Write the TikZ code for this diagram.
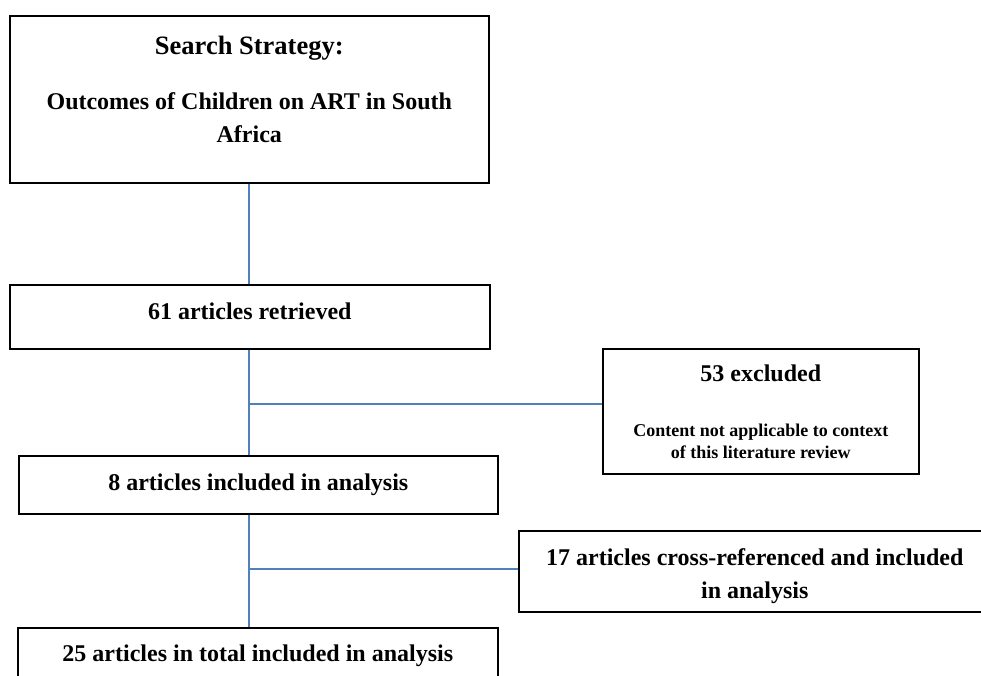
\documentclass[tikz,border=0pt]{standalone}
\usepackage{fontspec}
\setmainfont{Liberation Serif}
\usetikzlibrary{positioning}
\definecolor{linkblue}{RGB}{79,129,189}
\newcommand\boxfont{\fontsize{24}{33}\selectfont}
\newcommand\headfont{\fontsize{26.5}{33}\selectfont}
\newcommand\notefont{\fontsize{18}{22}\selectfont}
\tikzset{
	stagebox/.style={draw=black, line width=1.6pt, fill=white, align=center, inner sep=0pt, anchor=north west, font=\bfseries\boxfont},
	link/.style={draw=linkblue, line width=1.6pt}
}

\begin{document}
\begin{tikzpicture}[x=1pt, y=-1pt]
		%%%%% START %%%%%
		\clip (0, 0) rectangle (981, 675);
		\fill[white] (0, 0) rectangle (981, 675);
		
		\node[stagebox, minimum width=479, minimum height=167] (search) at (9, 15)
			{\headfont Search Strategy:\\[22pt] Outcomes of Children on ART in South\\ Africa\rule[-20pt]{0pt}{20pt}};
		\node[stagebox, minimum width=480, minimum height=64, text depth=12pt] (retrieved) at (9, 284) {61 articles retrieved};
		\node[stagebox, minimum width=316, minimum height=125] (excluded) at (602, 348)
			{\boxfont 53 excluded\\[22pt] \notefont Content not applicable to context\\[-11pt] \notefont of this literature review};
		\node[stagebox, minimum width=479, minimum height=58] (included) at (18, 455) {8 articles included in analysis};
		\node[stagebox, minimum width=472, minimum height=81] (crossref) at (518, 530)
			{\rule{0pt}{27pt}17 articles cross-referenced and included\\ in analysis};
		\node[stagebox, minimum width=480, minimum height=55] (total) at (17, 627) {25 articles in total included in analysis};
		
		\coordinate (spine) at (249, 0);
		\coordinate (split1) at (249, 404);
		\coordinate (split2) at (249, 569);
		
		\draw[link] (search.south -| spine) -- (retrieved.north -| spine);
		\draw[link] (retrieved.south -| spine) -- (included.north -| spine);
		\draw[link] (included.south -| spine) -- (total.north -| spine);
		\draw[link] (split1) -- (split1 -| excluded.west);
		\draw[link] (split2) -- (split2 -| crossref.west);
		%%%%% END %%%%%
\end{tikzpicture}
\end{document}
